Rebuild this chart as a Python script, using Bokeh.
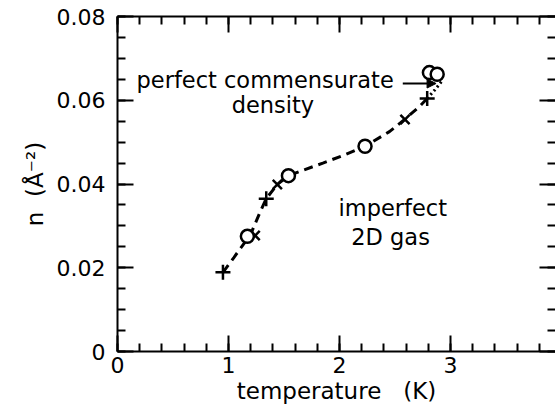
from bokeh.plotting import figure
from bokeh.models import LinearAxis, Range1d, FixedTicker, Label, Arrow, NormalHead
from bokeh.embed import file_html
from bokeh.resources import INLINE

# ---- data ----
plus_T = [0.95, 1.34, 2.79]
plus_n = [0.0189, 0.0365, 0.0604]
x_T = [1.24, 1.44, 2.59]
x_n = [0.0277, 0.0399, 0.0554]
circ_T = [1.17, 1.54, 2.23, 2.81, 2.88]
circ_n = [0.0275, 0.0420, 0.0490, 0.0666, 0.0662]

dash_T = [0.95, 1.05, 1.20, 1.28, 1.34, 1.44, 1.54, 1.85, 2.05, 2.23, 2.45, 2.59, 2.72, 2.79]
dash_n = [0.0189, 0.0225, 0.0280, 0.0330, 0.0365, 0.0399, 0.0420, 0.0450, 0.0470, 0.0490, 0.0525, 0.0555, 0.0585, 0.0604]
dot_T = [2.79, 2.86, 2.92]
dot_n = [0.0604, 0.0625, 0.0645]

x_ticks = [0, 1, 2, 3]
y_ticks = [0, 0.02, 0.04, 0.06, 0.08]
y_tick_labels = {0: "0", 0.02: "0.02", 0.04: "0.04", 0.06: "0.06", 0.08: "0.08"}

FONT = "DejaVu Sans"

p = figure(width=555, height=406, output_backend="svg", toolbar_location=None,
           x_range=Range1d(0, 438 / 111), y_range=Range1d(0, 0.08),
           min_border_left=117, min_border_right=0, min_border_top=16, min_border_bottom=54,
           x_axis_location=None, y_axis_location=None)
p.background_fill_color = "white"
p.border_fill_color = "white"
p.outline_line_color = None
p.xgrid.visible = False
p.ygrid.visible = False


def style(ax, labels=True):
    ax.axis_line_color = "black"
    ax.axis_line_width = 2
    ax.major_tick_line_color = "black"
    ax.major_tick_line_width = 2
    ax.minor_tick_line_color = "black"
    ax.minor_tick_line_width = 2
    ax.major_tick_in = 16
    ax.major_tick_out = 0
    ax.minor_tick_in = 8
    ax.minor_tick_out = 0
    ax.major_label_text_font = FONT
    ax.major_label_text_font_size = "22px"
    ax.major_label_text_color = "black"
    ax.axis_label_text_font = FONT
    ax.axis_label_text_font_style = "normal"
    ax.axis_label_text_color = "black"
    ax.axis_label_text_font_size = "23px"
    if not labels:
        ax.major_label_text_color = None
        ax.major_label_text_alpha = 0
        ax.major_label_text_font_size = "1px"
        ax.major_label_standoff = 0


xt = FixedTicker(ticks=x_ticks, minor_ticks=[i * 0.2 for i in range(0, 20)])
yt = FixedTicker(ticks=y_ticks, minor_ticks=[i * 0.005 for i in range(0, 17)])

bottom = LinearAxis(ticker=xt, axis_label="temperature\u00a0\u00a0\u00a0(K)")
style(bottom)
bottom.major_label_standoff = 5
bottom.axis_label_standoff = 2
p.add_layout(bottom, "below")

top = LinearAxis(ticker=xt)
style(top, labels=False)
p.add_layout(top, "above")

left = LinearAxis(ticker=yt, major_label_overrides=y_tick_labels,
                  axis_label="n\u00a0\u00a0(Å⁻²)")
style(left)
left.major_label_standoff = 12
left.axis_label_standoff = 6
p.add_layout(left, "left")

right = LinearAxis(ticker=yt)
style(right, labels=False)
right.axis_line_color = None
p.add_layout(right, "right")

# curve
p.line(dash_T, dash_n, line_color="black", line_width=3, line_dash="9 6")
p.line(dot_T, dot_n, line_color="black", line_width=3, line_dash="2 3")

# markers
p.scatter(plus_T, plus_n, marker="cross", size=15, line_color="black", line_width=2.5)
p.scatter(x_T, x_n, marker="x", size=13, line_color="black", line_width=2.5)
p.scatter(circ_T, circ_n, marker="circle", size=13, fill_color="white",
          line_color="black", line_width=2.5)


def lab(x, y, t, size="22.5px"):
    p.add_layout(Label(x=x, y=y, text=t, text_font=FONT, text_font_size=size,
                       text_align="center", text_baseline="middle", text_color="black"))


lab(1.33, 0.0648, "perfect commensurate")
lab(1.40, 0.0588, "density")
lab(2.48, 0.0343, "imperfect")
lab(2.46, 0.0274, "2D gas")

p.add_layout(Arrow(x_start=2.57, y_start=0.0640, x_end=2.87, y_end=0.0640,
                   line_color="black", line_width=2,
                   end=NormalHead(size=9, fill_color="black", line_color="black")))

open("out.html", "w").write(file_html(p, INLINE))
